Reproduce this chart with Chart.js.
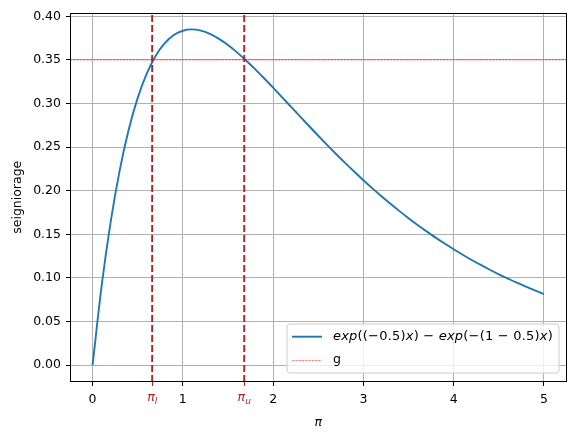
<!DOCTYPE html>
<html>
<head>
<meta charset="utf-8">
<script src="https://cdn.jsdelivr.net/npm/chart.js@4.4.1/dist/chart.umd.min.js"></script>
<style>
html, body { margin: 0; padding: 0; background: #fff; }
#wrap { width: 576px; height: 434px; }
</style>
</head>
<body>
<div id="wrap"><canvas id="graficoSenoreaje" width="576" height="434"></canvas></div>
<script>
// Datos: inflacion (pi) y senoreaje
const valoresPi = [0, 0.1, 0.2, 0.3, 0.4, 0.5, 0.6, 0.7, 0.8, 0.9,
    1.0, 1.1, 1.2, 1.3, 1.4, 1.5, 1.6, 1.7, 1.8, 1.9,
    2.0, 2.1, 2.2, 2.3, 2.4, 2.5, 2.6, 2.7, 2.8, 2.9,
    3.0, 3.1, 3.2, 3.3, 3.4, 3.5, 3.6, 3.7, 3.8, 3.9,
    4.0, 4.1, 4.2, 4.3, 4.4, 4.5, 4.6, 4.7, 4.8, 4.9, 5.0];
const valoresSenoreaje = [0, 0.0905, 0.1640, 0.2231, 0.2699, 0.3064, 0.3343, 0.3548, 0.3691, 0.3784,
    0.3834, 0.3849, 0.3835, 0.3798, 0.3741, 0.3670, 0.3586, 0.3493, 0.3394, 0.3289,
    0.3181, 0.3071, 0.2960, 0.2849, 0.2739, 0.2630, 0.2523, 0.2418, 0.2316, 0.2217,
    0.2120, 0.2027, 0.1937, 0.1850, 0.1766, 0.1685, 0.1608, 0.1534, 0.1462, 0.1394,
    0.1329, 0.1266, 0.1206, 0.1149, 0.1094, 0.1042, 0.0993, 0.0945, 0.0900, 0.0857, 0.0815];
const nivelG = 0.35;
const piBajo = 0.66;
const piAlto = 1.68;
const ticksX = [0, 1, 2, 3, 4, 5];
const ticksY = [0, 0.05, 0.10, 0.15, 0.20, 0.25, 0.30, 0.35, 0.40];
const limitesX = [-0.25, 5.25];
const limitesY = [-0.0193, 0.4043];

const etiquetaCurva = 'exp((−0.5)x) − exp(−(1 − 0.5)x)';
const FUENTE = '"DejaVu Sans"';
const LADRILLO = '#b22222';

const esPi = v => v === piBajo || v === piAlto;

// Marco de los ejes, etiquetas pi_l / pi_u y leyenda
const extras = {
    id: 'extras',
    afterDraw(chart) {
        const { ctx, chartArea: a, scales } = chart;
        ctx.save();

        // marco
        ctx.strokeStyle = '#000';
        ctx.lineWidth = 1;
        ctx.strokeRect(Math.round(a.left) + 0.5, Math.round(a.top) + 0.5,
            Math.round(a.right) - Math.round(a.left) - 1, Math.round(a.bottom) - Math.round(a.top) - 1);

        // etiquetas pi con subindice
        ctx.fillStyle = LADRILLO;
        ctx.textBaseline = 'alphabetic';
        [[piBajo, 'l'], [piAlto, 'u']].forEach(([v, sub]) => {
            const x = scales.x.getPixelForValue(v);
            ctx.font = 'italic 12.5px ' + FUENTE;
            const wPi = ctx.measureText('π').width;
            ctx.font = 'italic 9px ' + FUENTE;
            const wSub = ctx.measureText(sub).width;
            const x0 = x - (wPi + wSub) / 2;
            ctx.font = 'italic 12.5px ' + FUENTE;
            ctx.textAlign = 'left';
            ctx.fillText('π', x0, 401);
            ctx.font = 'italic 9px ' + FUENTE;
            ctx.fillText(sub, x0 + wPi, 404);
        });

        // leyenda
        const partes = [['exp', 1], ['((−0.5)', 0], ['x', 1], [') − ', 0], ['exp', 1], ['(−(1 − 0.5)', 0], ['x', 1], [')', 0]];
        let anchoTexto = 0;
        let nLetras = 0;
        partes.forEach(([t, it]) => {
            ctx.font = (it ? 'italic ' : '') + '13px ' + FUENTE;
            anchoTexto += ctx.measureText(t).width;
            nLetras += t.length;
        });
        const espaciado = Math.max(0, (220 - anchoTexto) / nLetras);
        anchoTexto += espaciado * nLetras;
        const w = anchoTexto + 46 + 6;
        const h = 49;
        const x0 = a.right - 7.5 - w;
        const y0 = a.bottom - 9 - h;
        ctx.beginPath();
        ctx.roundRect(x0, y0, w, h, 3);
        ctx.fillStyle = 'rgba(255,255,255,0.8)';
        ctx.fill();
        ctx.strokeStyle = '#cccccc';
        ctx.lineWidth = 1;
        ctx.stroke();

        const fila1 = y0 + 12.7;
        const fila2 = y0 + 36.7;
        ctx.beginPath();
        ctx.moveTo(x0 + 5, fila1);
        ctx.lineTo(x0 + 35, fila1);
        ctx.strokeStyle = '#1f77b4';
        ctx.lineWidth = 1.9;
        ctx.stroke();

        ctx.beginPath();
        ctx.setLineDash([2.3, 1]);
        ctx.moveTo(x0 + 5, fila2);
        ctx.lineTo(x0 + 35, fila2);
        ctx.strokeStyle = 'red';
        ctx.lineWidth = 0.6;
        ctx.stroke();
        ctx.setLineDash([]);

        ctx.fillStyle = '#000';
        ctx.textBaseline = 'middle';
        ctx.textAlign = 'left';
        let xt = x0 + 46;
        partes.forEach(([t, it]) => {
            ctx.font = (it ? 'italic ' : '') + '13px ' + FUENTE;
            for (const letra of t) {
                ctx.fillText(letra, xt, fila1);
                xt += ctx.measureText(letra).width + espaciado;
            }
        });
        ctx.font = '12.5px ' + FUENTE;
        ctx.fillText('g', x0 + 46, fila2 - 1);
        ctx.restore();
    }
};

const ctx = document.getElementById('graficoSenoreaje').getContext('2d');
new Chart(ctx, {
    type: 'line',
    data: {
        datasets: [
            {
                label: etiquetaCurva,
                data: valoresPi.map((x, i) => ({ x: x, y: valoresSenoreaje[i] })),
                borderColor: '#1f77b4',
                borderWidth: 1.9,
                pointRadius: 0,
                cubicInterpolationMode: 'monotone',
                order: 2
            },
            {
                label: 'g',
                data: [{ x: limitesX[0], y: nivelG }, { x: limitesX[1], y: nivelG }],
                borderColor: 'red',
                borderWidth: 0.6,
                borderDash: [2.3, 1],
                pointRadius: 0,
                order: 1
            },
            {
                label: 'pi_l',
                data: [{ x: piBajo, y: limitesY[0] }, { x: piBajo, y: limitesY[1] }],
                borderColor: LADRILLO,
                borderWidth: 1.9,
                borderDash: [7, 3],
                pointRadius: 0,
                order: 0
            },
            {
                label: 'pi_u',
                data: [{ x: piAlto, y: limitesY[0] }, { x: piAlto, y: limitesY[1] }],
                borderColor: LADRILLO,
                borderWidth: 1.9,
                borderDash: [7, 3],
                pointRadius: 0,
                order: 0
            }
        ]
    },
    options: {
        responsive: false,
        animation: false,
        layout: { padding: { top: 12, right: 9.5, left: 0, bottom: 0 } },
        plugins: {
            legend: { display: false },
            tooltip: { enabled: false }
        },
        scales: {
            x: {
                type: 'linear',
                min: limitesX[0],
                max: limitesX[1],
                afterBuildTicks: s => {
                    s.ticks = [0, piBajo, 1, piAlto, 2, 3, 4, 5].map(v => ({ value: v }));
                },
                afterFit: s => { s.height = 52; },
                border: { display: false },
                grid: {
                    color: c => (c.tick && esPi(c.tick.value)) ? 'rgba(0,0,0,0)' : '#b0b0b0',
                    lineWidth: 1,
                    drawTicks: true,
                    tickLength: 4,
                    tickColor: c => (c.tick && esPi(c.tick.value)) ? LADRILLO : '#000'
                },
                ticks: {
                    color: '#000',
                    font: { family: FUENTE, size: 12.5 },
                    padding: 6,
                    maxRotation: 0,
                    autoSkip: false,
                    callback: v => esPi(v) ? '' : (ticksX.includes(v) ? String(v) : '')
                },
                title: {
                    display: true,
                    text: 'π',
                    color: '#000',
                    font: { family: FUENTE, size: 12.5, style: 'italic' },
                    padding: { top: 0, bottom: 4 }
                }
            },
            y: {
                type: 'linear',
                min: limitesY[0],
                max: limitesY[1],
                afterBuildTicks: s => {
                    s.ticks = ticksY.map(v => ({ value: v }));
                },
                afterFit: s => { s.width = 70; },
                border: { display: false },
                grid: {
                    color: '#b0b0b0',
                    lineWidth: 1,
                    drawTicks: true,
                    tickLength: 4,
                    tickColor: '#000'
                },
                ticks: {
                    color: '#000',
                    font: { family: FUENTE, size: 12.5 },
                    padding: 5,
                    callback: v => v.toFixed(2)
                },
                title: {
                    display: true,
                    text: 'seigniorage',
                    color: '#000',
                    font: { family: FUENTE, size: 12.5 },
                    padding: { top: 10, bottom: 0 }
                }
            }
        }
    },
    plugins: [extras]
});
</script>
</body>
</html>
